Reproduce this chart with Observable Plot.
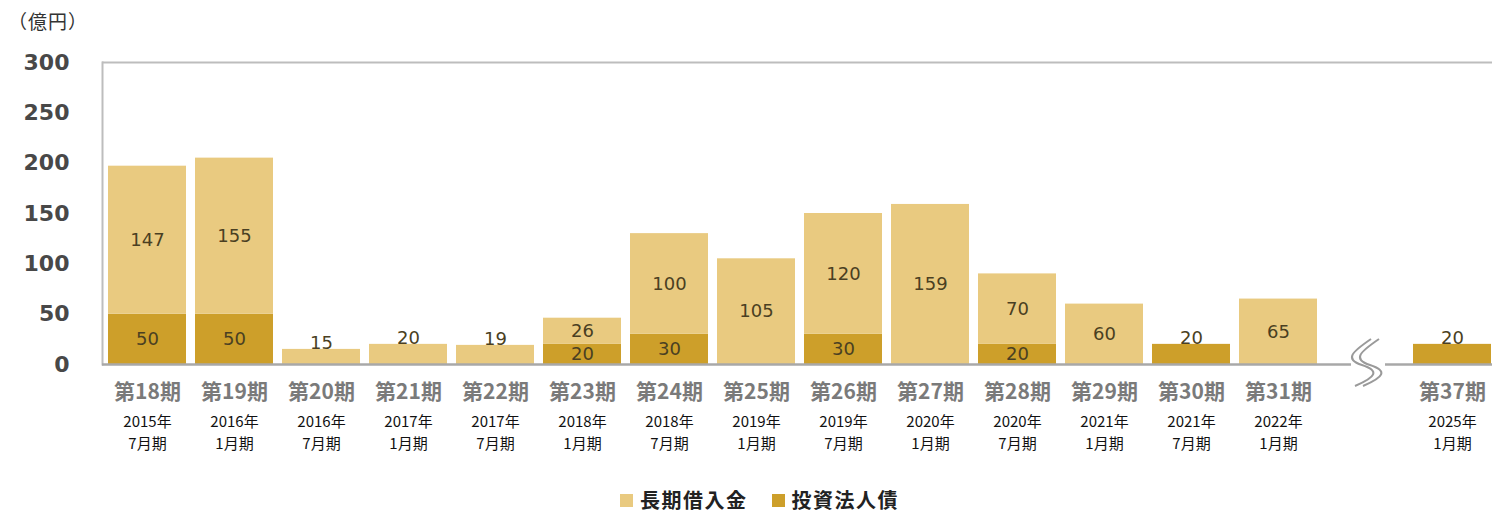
<!DOCTYPE html>
<html><head><meta charset="utf-8">
<script src="https://cdn.jsdelivr.net/npm/d3@7"></script>
<script src="https://cdn.jsdelivr.net/npm/@observablehq/plot@0.6"></script>
<style>
body{margin:0;background:#fff;width:1492px;height:513px;overflow:hidden;position:relative;font-family:"Noto Sans CJK JP",sans-serif}
#unit{position:absolute;left:8px;top:8px;font-size:19px;color:#333;line-height:26px;letter-spacing:1px}
#chart{position:absolute;left:0;top:40px}
#legend{position:absolute;top:489px;left:620px;display:flex;align-items:center;font-size:20px;font-weight:bold;color:#222;line-height:22px;letter-spacing:1.5px}
#legend .item{display:flex;align-items:center;margin-right:24px}
#legend .sw{width:13px;height:13px;margin-right:7px}
</style></head><body>
<div id="unit">（億円）</div>
<div id="chart"></div>
<div id="legend"></div>
<script>
// ---- data ----
const periods = ["第18期","第19期","第20期","第21期","第22期","第23期","第24期","第25期","第26期","第27期","第28期","第29期","第30期","第31期","","第37期"];
const years   = ["2015年","2016年","2016年","2017年","2017年","2018年","2018年","2019年","2019年","2020年","2020年","2021年","2021年","2022年","","2025年"];
const months  = ["7月期","1月期","7月期","1月期","7月期","1月期","7月期","1月期","7月期","1月期","7月期","1月期","7月期","1月期","","1月期"];
const loans   = [147,155,15,20,19,26,100,105,120,159,70,60,0,65,0,0];   // 長期借入金
const bonds   = [50,50,0,0,0,20,30,0,30,0,20,0,20,0,0,20];               // 投資法人債
const seriesNames  = ["長期借入金","投資法人債"];
const seriesColors = ["#E9CA80","#CD9F2A"];
const yTicks = [0,50,100,150,200,250,300];

// ---- build tables ----
const rows = [];
periods.forEach((p,i)=>{ if (bonds[i]) rows.push({period:p, series:"投資法人債", value:bonds[i]}); });
periods.forEach((p,i)=>{ if (loans[i]) rows.push({period:p, series:"長期借入金", value:loans[i]}); });

const inside = [], above = [];
periods.forEach((p,i)=>{
  const b = bonds[i]||0, l = loans[i]||0;
  if (!b && !l) return;
  const single = (b>0) !== (l>0);
  if (single && b + l < 25) { above.push({period:p, y:b+l, text:String(b+l)}); return; }
  if (b) inside.push({period:p, y:b/2, text:String(b)});
  if (l) inside.push({period:p, y:b+l/2, text:String(l)});
});
const idx = d3.range(periods.length).filter(i=>periods[i]);

const gapKey = "";
const plot = Plot.plot({
  width: 1492, height: 430,
  marginTop: 22, marginBottom: 106, marginLeft: 102, marginRight: -6,
  style: {fontFamily: "DejaVu Sans, sans-serif", fontSize: "22px", background: "#fff"},
  x: {domain: periods, paddingInner: 0.1, paddingOuter: 0.05, axis: null},
  y: {domain: [0,300], axis: null},
  color: {domain: seriesNames, range: seriesColors},
  marks: [
    Plot.ruleY([300], {stroke: "#bdbdbd", strokeWidth: 2}),
    Plot.frame({anchor: "left", stroke: "#bdbdbd", strokeWidth: 2}),
    Plot.barY(rows, Plot.stackY({x: "period", y: "value", fill: "series", order: null, inset: 0})),
    Plot.ruleY([0], {stroke: "#a8a8a8", strokeWidth: 2.5}),
    Plot.axisY({ticks: yTicks, tickSize: 0, tickPadding: 33, fill: "#484848", fontSize: 22, fontWeight: "bold"}),
    Plot.text(inside, {x: "period", y: "y", text: "text", fill: "#4a3f22", fontSize: 18, fontFamily: "DejaVu Sans"}),
    Plot.text(above, {x: "period", y: "y", text: "text", fill: "#4a3f22", fontSize: 18, fontFamily: "DejaVu Sans", lineAnchor: "bottom", dy: 0}),
    Plot.text(idx, {x: i=>periods[i], y: 0, text: i=>periods[i], dy: 28, fill: "#7a7a7a", fontSize: 21, fontWeight: "bold", fontFamily: "Noto Sans CJK JP"}),
    Plot.text(idx, {x: i=>periods[i], y: 0, text: i=>years[i] + "\n" + months[i], dy: 47, lineAnchor: "top", lineHeight: 1.46, fill: "#111", fontSize: 15, fontFamily: "Noto Sans CJK JP"})
  ]
});
document.getElementById("chart").appendChild(plot);

// axis break symbol, placed with the plot's own scales
const xs = plot.scale("x"), ys = plot.scale("y");
const cx = xs.apply(gapKey) + xs.bandwidth/2 + 3, cy = ys.apply(0);
const svg = d3.select(plot);
svg.append("rect").attr("x", cx-17).attr("y", cy-4).attr("width", 34).attr("height", 8).attr("fill", "#fff");
[-4, 4].forEach(o => {
  const x = cx + o;
  const d = `M ${x+7} ${cy-25} C ${x-12} ${cy-12}, ${x-20} ${cy-5}, ${x-2} ${cy+1} C ${x+16} ${cy+7}, ${x+12} ${cy+13}, ${x-9} ${cy+22}`;
  svg.append("path").attr("d", d).attr("fill","none").attr("stroke","#9a9a9a").attr("stroke-width",2);
});

// legend
const lg = d3.select("#legend");
seriesNames.forEach((n,i)=>{
  const it = lg.append("div").attr("class","item");
  it.append("div").attr("class","sw").style("background", seriesColors[i]);
  it.append("span").text(n);
});
</script>
</body></html>
